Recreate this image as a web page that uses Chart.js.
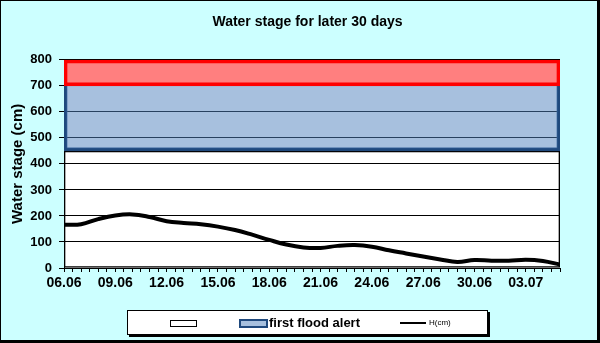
<!DOCTYPE html>
<html>
<head>
<meta charset="utf-8">
<script src="https://cdn.jsdelivr.net/npm/chart.js@4/dist/chart.umd.min.js"></script>
<style>
  html, body { margin: 0; padding: 0; }
  body { width: 600px; height: 343px; position: relative; overflow: hidden; background: #fff; }
  #marco { position: absolute; left: 0; top: 0; width: 600px; height: 343px; box-sizing: border-box;
           border-style: solid; border-color: #000; border-width: 1px 3px 3px 1px; background: #ccffff; }
  #grafico { position: absolute; left: 0; top: 0; }
  #leyenda { position: absolute; left: 127px; top: 310px; width: 361px; height: 25px; box-sizing: border-box;
             border: 1px solid #000; box-shadow: 2px 2px 0 #000; background: #fff;
             font-family: "Liberation Sans", Arial, sans-serif; color: #000; }
  #leyenda span { position: absolute; display: block; box-sizing: border-box; }
</style>
</head>
<body>
<div id="marco"></div>
<canvas id="grafico" width="600" height="343"></canvas>
<div id="leyenda"></div>
<script>
// fechas (una por dia)
const dates = [
  "06.06", "07.06", "08.06", "09.06", "10.06", "11.06", "12.06", "13.06", "14.06", "15.06",
  "16.06", "17.06", "18.06", "19.06", "20.06", "21.06", "22.06", "23.06", "24.06", "25.06",
  "26.06", "27.06", "28.06", "29.06", "30.06", "01.07", "02.07", "03.07", "04.07", "05.07"
];

// nivel del agua H(cm)
const waterLevel = [
  166, 168, 188, 202, 206, 196, 180, 173, 168, 159,
  146, 128, 108, 90, 79, 77, 85, 88, 82, 68,
  56, 44, 33, 23, 31, 28, 28, 32, 27, 13
];

// bandas de alerta
const bandLows = [0, 450, 700];
const bandHighs = [450, 700, 800];
const bandNames = ["", "first flood alert", ""];

const yTicks = { min: 0, max: 800, step: 100 };

Chart.defaults.font.family = "'Liberation Sans', Arial, sans-serif";
Chart.defaults.color = "#000";

var fondoBlanco = {
  id: "fondoBlanco",
  beforeDraw: function (chart) {
    const a = chart.chartArea;
    chart.ctx.save();
    chart.ctx.fillStyle = "#ffffff";
    chart.ctx.fillRect(a.left, a.top, a.right - a.left, a.bottom - a.top);
    chart.ctx.restore();
  },
};

function banda(i, fill, border, width, skip, order) {
  return {
    type: "bar",
    label: bandNames[i],
    data: [[bandLows[i], bandHighs[i]]],
    xAxisID: "xb",
    yAxisID: "y",
    backgroundColor: fill,
    borderColor: border,
    borderWidth: width,
    borderSkipped: skip,
    barPercentage: 1,
    categoryPercentage: 1,
    grouped: false,
    order: order,
  };
}

var grafico = new Chart(document.getElementById("grafico"), {
  type: "line",
  data: {
    datasets: [
      {
        type: "line",
        label: "H(cm)",
        data: waterLevel.map((v, i) => ({ x: i, y: v })),
        xAxisID: "x",
        yAxisID: "y",
        borderColor: "#000",
        borderWidth: 4,
        tension: 0.4,
        pointRadius: 0,
        fill: false,
        clip: 0,
        order: 0,
      },
      banda(0, "rgba(255,255,255,0)", "#000", 1, false, 3),
      banda(1, "rgba(79,129,189,0.5)", "#1f497d", 3, "top", 2),
      banda(2, "rgba(255,0,0,0.5)", "#ff0000", 3, false, 1),
    ],
  },
  options: {
    responsive: false,
    animation: false,
    layout: { padding: { left: 15, right: 0, top: 0, bottom: 50 } },
    plugins: {
      legend: { display: false },
      tooltip: { enabled: false },
      title: {
        display: true,
        text: "Water stage for later 30 days",
        color: "#000",
        font: { size: 14, weight: "bold" },
        padding: { top: 14, bottom: 29 },
      },
    },
    scales: {
      x: {
        type: "linear",
        position: "bottom",
        min: 0,
        max: dates.length - 1,
        afterFit: (s) => { s.height = 25; },
        grid: { drawOnChartArea: false, color: "#000", tickLength: 4 },
        border: { color: "#000" },
        ticks: {
          stepSize: 0.5,
          autoSkip: false,
          maxRotation: 0,
          padding: 3,
          color: "#000",
          font: { size: 14, weight: "bold" },
          callback: (v) => (v % 3 === 0 ? dates[v] : ""),
        },
      },
      xb: { type: "category", labels: [""], display: false, offset: true },
      y: {
        min: yTicks.min,
        max: yTicks.max,
        afterFit: (s) => { s.width = 49; },
        grid: { color: "#000", tickLength: 5 },
        border: { color: "#000" },
        ticks: { stepSize: yTicks.step, padding: 7, color: "#000", font: { size: 13, weight: "bold" } },
        title: {
          display: true,
          text: "Water stage (cm)",
          color: "#000",
          font: { size: 15, weight: "bold" },
          padding: { top: -6.5, bottom: 0 },
        },
      },
      y2: {
        position: "right",
        afterFit: (s) => { s.width = 40; },
        grid: { display: false },
        ticks: { display: false },
        border: { display: false },
      },
    },
  },
  plugins: [fondoBlanco],
});

// leyenda en html
function ponerLeyenda(id) {
  let html = "";
  html += "<span style='left:42px;top:9px;width:27px;height:7px;border:1px solid #000;background:#fff'></span>";
  html += "<span style='left:111px;top:8px;width:29px;height:9px;border:2px solid #1f497d;background:#a7c0de'></span>";
  html += "<span style='left:141px;top:3px;font-size:13px;font-weight:bold;line-height:17px'>" + bandNames[1] + "</span>";
  html += "<span style='left:272px;top:11px;width:26px;height:2px;background:#000'></span>";
  html += "<span style='left:301px;top:7px;font-size:8px;line-height:10px'>" + grafico.data.datasets[0].label + "</span>";
  document.getElementById(id).innerHTML = html;
}
ponerLeyenda("leyenda");
</script>
</body>
</html>
